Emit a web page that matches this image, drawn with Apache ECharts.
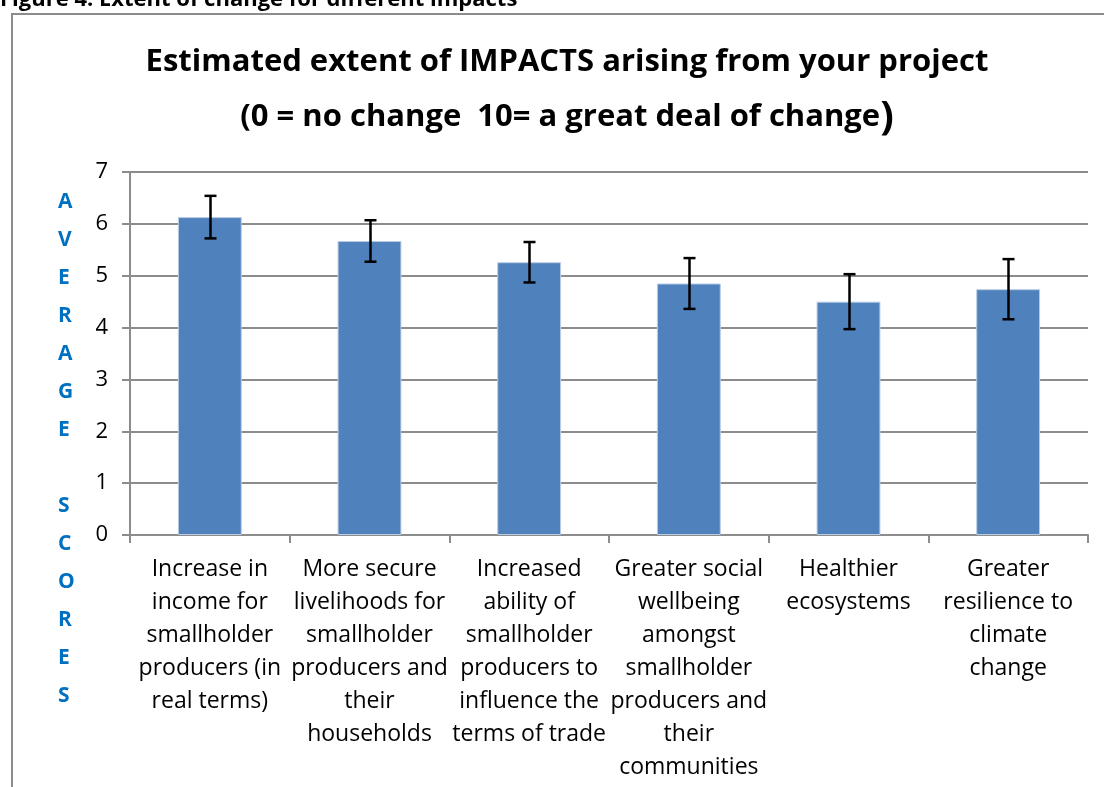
<!DOCTYPE html>
<html>
<head>
<meta charset="utf-8">
<script src="https://cdn.jsdelivr.net/npm/echarts@6/dist/echarts.min.js"></script>
<style>
  html, body { margin: 0; padding: 0; background: #fff; }
  #chart { width: 1104px; height: 787px; }
</style>
</head>
<body>
<div id="chart"></div>
<script>
const categories = [
  'Increase in\nincome for\nsmallholder\nproducers (in\nreal terms)',
  'More secure\nlivelihoods for\nsmallholder\nproducers and\ntheir\nhouseholds',
  'Increased\nability of\nsmallholder\nproducers to\ninfluence the\nterms of trade',
  'Greater social\nwellbeing\namongst\nsmallholder\nproducers and\ntheir\ncommunities',
  'Healthier\necosystems',
  'Greater\nresilience to\nclimate\nchange'
]
const averages = [6.13, 5.67, 5.26, 4.85, 4.50, 4.74]
const errors = [0.41, 0.40, 0.39, 0.49, 0.53, 0.58]
const yTicks = [0, 1, 2, 3, 4, 5, 6, 7]

const font = '"Open Sans", Lato, sans-serif'
const chart = echarts.init(document.getElementById('chart'))

chart.setOption({
  animation: false,
  textStyle: { fontFamily: font },
  title: {
    text: 'Estimated extent of IMPACTS arising from your project\n{n|(0 = no change  10= a great deal of change}{p|)}',
    left: 562,
    textAlign: 'center',
    top: 30,
    textStyle: {
      fontFamily: font,
      fontSize: 31,
      fontWeight: 'bold',
      color: '#000',
      lineHeight: 55,
      rich: {
        n: { fontFamily: font, fontSize: 31, fontWeight: 'bold', color: '#000', lineHeight: 55 },
        p: { fontFamily: font, fontSize: 40, fontWeight: 'bold', color: '#000', lineHeight: 55 }
      }
    }
  },
  graphic: [
    {
      type: 'rect',
      shape: { x: 12, y: 14, width: 1120, height: 800 },
      style: { fill: 'none', stroke: '#8c8c8c', lineWidth: 2 }
    },
    {
      type: 'text',
      left: 0,
      top: -11,
      style: {
        text: 'Figure 4: Extent of change for different impacts',
        font: 'bold 22px ' + font,
        fill: '#000'
      }
    },
    {
      type: 'text',
      left: 58,
      top: 183,
      style: {
        text: 'A\nV\nE\nR\nA\nG\nE\n\nS\nC\nO\nR\nE\nS',
        font: 'bold 21px ' + font,
        fill: '#0070C0',
        lineHeight: 38,
        align: 'center',
        width: 24
      }
    }
  ],
  grid: { left: 130, right: 16, top: 172, bottom: 252 },
  xAxis: {
    type: 'category',
    data: categories,
    axisLine: { lineStyle: { color: '#8c8c8c', width: 2 } },
    axisTick: { show: true, length: 8, lineStyle: { color: '#8c8c8c', width: 2 } },
    axisLabel: {
      interval: 0,
      margin: 18,
      color: '#000',
      fontSize: 23,
      lineHeight: 33,
      fontFamily: font
    }
  },
  yAxis: {
    type: 'value',
    min: 0,
    max: 7,
    interval: 1,
    axisLine: { show: true, lineStyle: { color: '#8c8c8c', width: 2 } },
    axisTick: { show: true, length: 8, lineStyle: { color: '#8c8c8c', width: 2 } },
    axisLabel: {
      margin: 22,
      color: '#000',
      fontSize: 22,
      fontFamily: font,
      formatter: (v) => yTicks.includes(v) ? String(v) : ''
    },
    splitLine: { lineStyle: { color: '#8c8c8c', width: 2 } }
  },
  series: [
    {
      type: 'bar',
      data: averages,
      barWidth: '40%',
      itemStyle: { color: '#4F81BD', borderColor: '#B9CDE5', borderWidth: 1 }
    },
    {
      type: 'custom',
      data: averages.map((v, i) => [i, v - errors[i], v + errors[i]]),
      z: 10,
      renderItem: (params, api) => {
        const lo = api.coord([api.value(0), api.value(1)])
        const hi = api.coord([api.value(0), api.value(2)])
        const x = Math.round(lo[0]) + 0.5
        const cap = 6
        const style = { stroke: '#000', lineWidth: 2.5 }
        return {
          type: 'group',
          children: [
            { type: 'line', shape: { x1: x, y1: hi[1], x2: x, y2: lo[1] }, style },
            { type: 'line', shape: { x1: x - cap, y1: hi[1], x2: x + cap, y2: hi[1] }, style },
            { type: 'line', shape: { x1: x - cap, y1: lo[1], x2: x + cap, y2: lo[1] }, style }
          ]
        }
      }
    }
  ]
})
</script>
</body>
</html>
